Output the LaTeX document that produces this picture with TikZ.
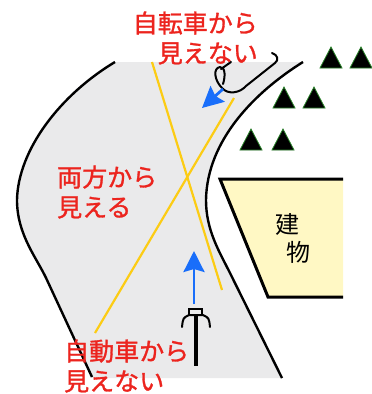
\documentclass[tikz,border=0pt]{standalone}
\usepackage{fontspec}
\newfontfamily\jpfont{Noto Sans CJK JP}[FakeBold=1.2]
\newfontfamily\jpplain{Noto Sans CJK JP}
\usetikzlibrary{arrows.meta}
\definecolor{roadgray}{RGB}{234,234,235}
\definecolor{sightyellow}{RGB}{252,204,20}
\definecolor{moveblue}{RGB}{25,110,250}
\definecolor{notered}{RGB}{236,36,30}
\definecolor{bldgyellow}{RGB}{255,248,196}
\definecolor{treegreen}{RGB}{40,130,40}

\begin{document}
\begin{tikzpicture}[x=1pt, y=-1pt,
    roadline/.style={line width=2.4pt, black},
    sight/.style={line width=2.2pt, sightyellow},
    arrow/.style={-{Stealth[length=21pt,width=21pt,inset=3pt]}, line width=2.8pt, moveblue},
    icon/.style={line width=2pt, black, line cap=round, line join=round},
    tree/.style={fill=black, draw=treegreen, line width=0.8pt},
    redtext/.style={font=\jpfont\fontsize{25}{30}\selectfont, text=notered, inner sep=0pt},
    bldgtext/.style={font=\jpplain\fontsize{24}{24}\selectfont, inner sep=0pt}]

\useasboundingbox (0,0) rectangle (372,394);

% road surface and its two edges
\fill[roadgray] (115,62) -- (303,62) .. controls (255,92) and (207,140) .. (206,200)
    .. controls (206,230) and (219,251) .. (230,273) -- (282,378) -- (92,378) -- (47,280)
    .. controls (37,258) and (17,235) .. (17,200) .. controls (18,150) and (60,95) .. (115,62) -- cycle;
\draw[roadline] (115,62) .. controls (60,95) and (18,150) .. (17,200)
    .. controls (17,235) and (37,258) .. (47,280) -- (92,377);
\draw[roadline] (303,62) .. controls (255,92) and (207,140) .. (206,200)
    .. controls (206,230) and (219,251) .. (230,273) -- (282,378);

% lines of sight
\coordinate (farA) at (152,62);
\coordinate (nearA) at (222,290);
\coordinate (farB) at (234,98);
\coordinate (nearB) at (95,333);
\draw[sight] (farA) -- (nearA);
\draw[sight] (nearB) -- (farB);

% building
\fill[bldgyellow] (220,179) -- (343,179) -- (343,297) -- (268,297) -- cycle;
\draw[line width=3pt] (343,179) -- (220,179) -- (268,297) -- (343,297);
\node[bldgtext] (bldgA) at (287,224) {建};
\node[bldgtext] (bldgB) at (298,252) {物};

% trees
\foreach \x/\y in {331/68, 361/68, 284/108, 314/108, 251/150, 283/150}
  \draw[tree] ({\x-11},\y) -- (\x,{\y-21}) -- ({\x+11},\y) -- cycle;

% bicycle coming round the bend
\draw[icon] (272,53) .. controls (278,55) and (279,60) .. (275,63) -- (246,86)
    .. controls (240,93) and (228,95) .. (222,88) .. controls (214,80) and (213,68) .. (220,67)
    .. controls (226,67) and (225,78) .. (223,84);
\draw[icon] (221,69) -- (231,62);
\coordinate (bikeA) at (223,89);
\coordinate (bikeB) at (202,108);
\draw[arrow] (bikeA) -- (bikeB);

% car from below
\draw[icon] (182,327) .. controls (183,318) .. (189,315) -- (203,315) .. controls (209,318) .. (210,327);
\draw[line width=1.6pt] (189,309) rectangle (202,315);
\draw[line width=4pt] (196,315) -- (196,366);
\coordinate (carA) at (194,304);
\coordinate (carB) at (194,251);
\draw[arrow] (carA) -- (carB);

% notes
\node[redtext, align=right, anchor=east] (topnote) at (258,38) {自転車から\\見えない};
\node[redtext, align=left, anchor=west] (bothnote) at (57,192) {両方から\\見える};
\node[redtext, align=left, anchor=west] (carnote) at (64,366) {自動車から\\見えない};

\end{tikzpicture}
\end{document}
